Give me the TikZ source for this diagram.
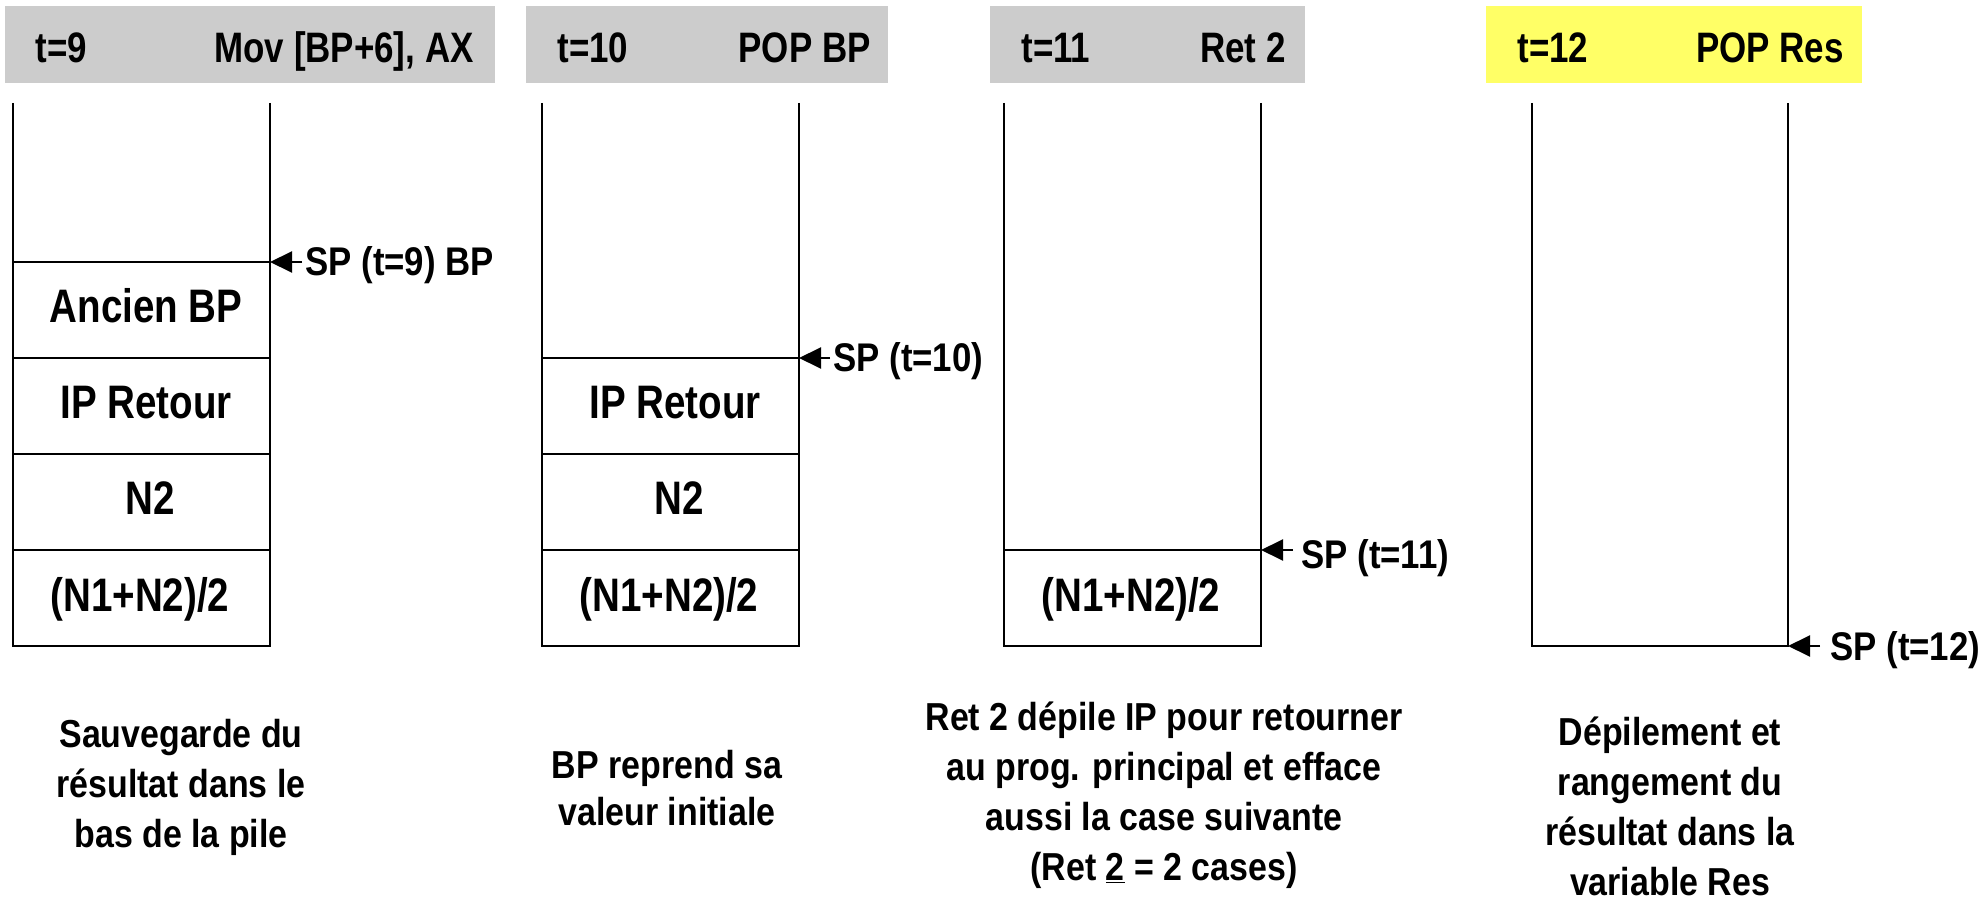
\documentclass[tikz,border=0pt]{standalone}
\usepackage{fontspec}
\setmainfont{Liberation Sans}[FakeStretch=0.82]
\newfontfamily\fb{Liberation Sans}[FakeStretch=0.87]
\usetikzlibrary{arrows.meta}
\definecolor{hgray}{RGB}{204,204,204}
\definecolor{hyellow}{RGB}{255,255,102}
\begin{document}
\begin{tikzpicture}[x=0.5pt,y=-0.5pt,
  hbox/.style={minimum height=38.5pt, inner sep=0pt, outer sep=0pt, anchor=north west},
  hdr/.style={inner sep=0pt, font=\bfseries\fontsize{21.3}{25}\selectfont},
  cell/.style={draw, line width=1.3pt, minimum width=128.5pt, minimum height=48pt, inner sep=0pt, outer sep=0pt, anchor=north west},
  ctext/.style={inner sep=0pt, anchor=base, font=\bfseries\fontsize{23.5}{28}\selectfont},
  wall/.style={line width=1.3pt},
  sptext/.style={inner sep=0pt, anchor=base west, font=\fb\bfseries\fontsize{20}{24}\selectfont},
  sparr/.style={line width=1pt, -{Triangle[length=11pt,width=10.5pt]}},
  desc/.style={inner sep=0pt, anchor=base, font=\fb\bfseries\fontsize{19.5}{25}\selectfont}
]
\useasboundingbox (0,0) rectangle (1987,903);

% ---------- headers ----------
\node[hbox, fill=hgray, minimum width=245pt] (h1) at (5,6) {};
\node[hdr, anchor=base west] (h1l) at (35,63) {t=9};
\node[hdr, anchor=base east] (h1r) at (474,63) {Mov [BP+6], AX};

\node[hbox, fill=hgray, minimum width=181pt] (h2) at (526,6) {};
\node[hdr, anchor=base west] (h2l) at (557,63) {t=10};
\node[hdr, anchor=base east] (h2r) at (871,63) {POP BP};

\node[hbox, fill=hgray, minimum width=157.5pt] (h3) at (990,6) {};
\node[hdr, anchor=base west] (h3l) at (1021,63) {t=11};
\node[hdr, anchor=base east] (h3r) at (1286,63) {Ret 2};

\node[hbox, fill=hyellow, minimum width=188pt] (h4) at (1486,6) {};
\node[hdr, anchor=base west] (h4l) at (1517,63) {t=12};
\node[hdr, anchor=base east] (h4r) at (1844,63) {POP Res};

% ---------- stack 1 ----------
\node[cell] (c1a) at (13,262) {};
\node[cell] (c1b) at (13,358) {};
\node[cell] (c1c) at (13,454) {};
\node[cell] (c1d) at (13,550) {};
\draw[wall] (13,103) -- (c1a.north west);
\draw[wall] (270,103) -- (c1a.north east);
\node[ctext] (t1a) at ([xshift=2.25pt,yshift=-6.5pt]c1a.center) {Ancien BP};
\node[ctext] (t1b) at ([xshift=2.25pt,yshift=-6.5pt]c1b.center) {IP Retour};
\node[ctext] (t1c) at ([xshift=4.5pt,yshift=-6.5pt]c1c.center) {N2};
\node[ctext] (t1d) at ([xshift=-0.75pt,yshift=-6.5pt]c1d.center) {(N1+N2)/2};
\coordinate (a9) at (302,262);
\draw[sparr] (a9) -- (c1a.north east);
\node[sptext] (sp9) at (305,276) {SP (t=9) BP};

% ---------- stack 2 ----------
\node[cell] (c2a) at (542,358) {};
\node[cell] (c2b) at (542,454) {};
\node[cell] (c2c) at (542,550) {};
\draw[wall] (542,103) -- (c2a.north west);
\draw[wall] (799,103) -- (c2a.north east);
\node[ctext] (t2a) at ([xshift=2.25pt,yshift=-6.5pt]c2a.center) {IP Retour};
\node[ctext] (t2b) at ([xshift=4.5pt,yshift=-6.5pt]c2b.center) {N2};
\node[ctext] (t2c) at ([xshift=-0.75pt,yshift=-6.5pt]c2c.center) {(N1+N2)/2};
\coordinate (a10) at (830,358);
\draw[sparr] (a10) -- (c2a.north east);
\node[sptext] (sp10) at (833,372) {SP (t=10)};

% ---------- stack 3 ----------
\node[cell] (c3a) at (1004,550) {};
\draw[wall] (1004,103) -- (c3a.north west);
\draw[wall] (1261,103) -- (c3a.north east);
\node[ctext] (t3a) at ([xshift=-0.75pt,yshift=-6.5pt]c3a.center) {(N1+N2)/2};
\coordinate (a11) at (1293,550);
\draw[sparr] (a11) -- (c3a.north east);
\node[sptext] (sp11) at (1301,568) {SP (t=11)};

% ---------- stack 4 ----------
\coordinate (s4tl) at (1532,103);
\coordinate (s4bl) at (1532,646);
\coordinate (s4br) at (1788,646);
\coordinate (s4tr) at (1788,103);
\draw[wall] (s4tl) -- (s4bl) -- (s4br) -- (s4tr);
\coordinate (a12) at (1820,646);
\draw[sparr] (a12) -- (s4br);
\node[sptext] (sp12) at (1830,660) {SP (t=12)};

% ---------- descriptions ----------
\setlength{\tabcolsep}{0pt}
\node[desc] (d1) at (181,747) {\begin{tabular}[t]{c}Sauvegarde du\\résultat dans le\\bas de la pile\end{tabular}};
\node[desc, font=\fb\bfseries\fontsize{19.5}{23.5}\selectfont] (d2) at (667,778) {\begin{tabular}[t]{c}BP reprend sa\\valeur initiale\end{tabular}};
\node[desc] (d3) at (1164,730) {\begin{tabular}[t]{c}Ret 2 dépile IP pour retourner\\au prog. principal et efface\\aussi la case suivante\\(Ret \underline{2} = 2 cases)\end{tabular}};
\node[desc] (d4) at (1670,745) {\begin{tabular}[t]{c}Dépilement et\\rangement du\\résultat dans la\\variable Res\end{tabular}};
\end{tikzpicture}
\end{document}
